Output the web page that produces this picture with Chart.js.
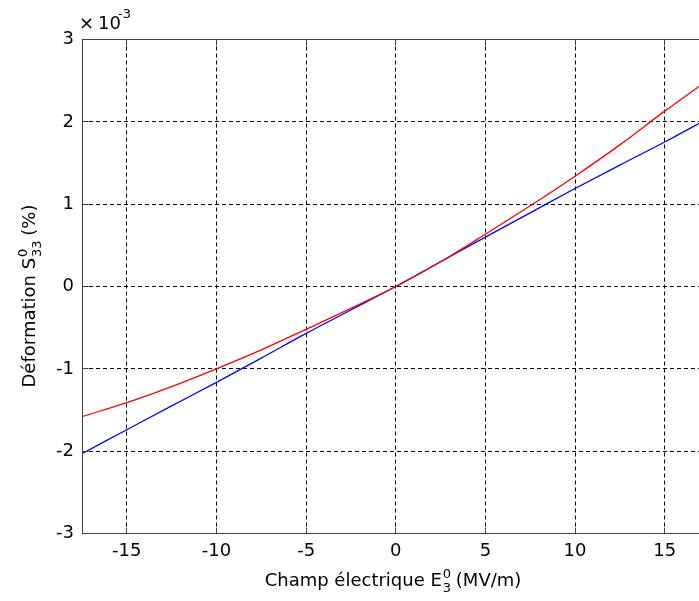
<!DOCTYPE html>
<html><head><meta charset="utf-8">
<script src="https://cdn.jsdelivr.net/npm/chart.js@4.4.1/dist/chart.umd.min.js"></script>
<style>
html,body{margin:0;padding:0;overflow:hidden;background:#fff;width:699px;height:601px}
#wrap{position:absolute;left:0;top:0;width:711px;height:601px}
</style>
</head><body><div id="wrap"><canvas id="c" width="711" height="601"></canvas></div>
<script>
// Electric field E3 (MV/m)
const xValues    = [-17.5, -15, -12.5, -10, -7.5, -5, -2.5, 0, 2.5, 5, 7.5, 10, 12.5, 15, 17.5];
// Strain S33 (% , x 10^-3) – blue (linear-like) series
const blueSeries = [-2.03, -1.74, -1.45, -1.165, -0.87, -0.57, -0.285, 0, 0.30, 0.60, 0.895, 1.19, 1.475, 1.755, 2.05];
// Strain S33 (% , x 10^-3) – red (nonlinear) series
const redSeries  = [-1.58, -1.41, -1.215, -1.0, -0.77, -0.52, -0.265, 0, 0.30, 0.635, 0.98, 1.34, 1.72, 2.13, 2.52];

const xTickValues = [-15, -10, -5, 0, 5, 10, 15];
const xTickLabels = ['-15', '-10', '-5', '0', '5', '10', '15'];
const yTickValues = [-3, -2, -1, 0, 1, 2, 3];
const yTickLabels = ['-3', '-2', '-1', '0', '1', '2', '3'];

const FONT = '"DejaVu Sans", sans-serif';
const FRAME = '#404040';

function pts(ys){ return xValues.map((x,i)=>({x:x, y:ys[i]})); }

const decor = {
  id:'decor',
  afterDatasetsDraw(chart){
    const ctx = chart.ctx, ca = chart.chartArea;
    const xs = chart.scales.x, ys = chart.scales.y;
    ctx.save();
    ctx.strokeStyle = FRAME; ctx.lineWidth = 1; ctx.setLineDash([]);
    const L = Math.round(ca.left)+0.5, T = Math.floor(ca.top)+0.5;
    const R = Math.round(ca.right)-0.5, B = Math.floor(ca.bottom)+0.5;
    ctx.beginPath();
    ctx.moveTo(L,T); ctx.lineTo(R,T); ctx.lineTo(R,B); ctx.lineTo(L,B); ctx.closePath();
    // inward ticks
    xTickValues.forEach(v=>{
      const p = Math.round(xs.getPixelForValue(v)-0.5)+0.5;
      ctx.moveTo(p,B); ctx.lineTo(p,B-6);
      ctx.moveTo(p,T); ctx.lineTo(p,T+6);
    });
    yTickValues.forEach(v=>{
      const p = Math.round(ys.getPixelForValue(v)-0.5)+0.5;
      ctx.moveTo(L,p); ctx.lineTo(L+6,p);
      ctx.moveTo(R,p); ctx.lineTo(R-6,p);
    });
    ctx.stroke();
    ctx.restore();
  },
  afterDraw(chart){
    const ctx = chart.ctx;
    ctx.save();
    ctx.fillStyle = '#000';
    ctx.textBaseline = 'alphabetic';
    ctx.textAlign = 'left';
    const big = '18px '+FONT, small = '13px '+FONT;
    // X title
    const a = 'Champ électrique E', b = ' (MV/m)';
    ctx.font = big; const wa = ctx.measureText(a).width, wb = ctx.measureText(b).width;
    ctx.font = small; const ws = Math.max(ctx.measureText('0').width, ctx.measureText('3').width);
    const tot = wa + ws + wb;
    let x0 = 393 - tot/2, yb = 586;
    ctx.font = big; ctx.fillText(a, x0, yb);
    ctx.font = small; ctx.fillText('0', x0+wa+1, yb-8); ctx.fillText('3', x0+wa+1, yb+6);
    ctx.font = big; ctx.fillText(b, x0+wa+ws, yb);
    // Y title (rotated)
    ctx.save();
    ctx.translate(35, 296); ctx.rotate(-Math.PI/2);
    const c = 'Déformation S', d = ' (%)';
    ctx.font = big; const wc = ctx.measureText(c).width, wd = ctx.measureText(d).width;
    ctx.font = small; const ws2 = ctx.measureText('33').width;
    const tot2 = wc + ws2 + wd;
    let s0 = -tot2/2;
    ctx.font = big; ctx.fillText(c, s0, 0);
    ctx.font = small; ctx.fillText('0', s0+wc+1, -8); ctx.fillText('33', s0+wc+1, 6);
    ctx.font = big; ctx.fillText(d, s0+wc+ws2, 0);
    ctx.restore();
    // multiplier
    ctx.font = big; ctx.fillText('×', 79, 29);
    ctx.fillText('10', 98, 29);
    ctx.font = small; ctx.fillText('-3', 118, 18);
    ctx.restore();
  }
};

new Chart(document.getElementById('c'), {
  type:'line',
  data:{ datasets:[
    { data: pts(redSeries),  borderColor:'#ff0000', borderWidth:1.3, pointRadius:0, cubicInterpolationMode:'monotone', fill:false },
    { data: pts(blueSeries), borderColor:'#0000ff', borderWidth:1.3, pointRadius:0, cubicInterpolationMode:'monotone', fill:false }
  ]},
  options:{
    responsive:false, animation:false, devicePixelRatio:1,
    layout:{ padding:{ left:0, top:39.5, right:1.5, bottom:0 } },
    plugins:{ legend:{display:false}, tooltip:{enabled:false} },
    scales:{
      x:{ type:'linear', min:-17.5, max:17.5,
        afterBuildTicks:s=>{ s.ticks = xTickValues.map(v=>({value:v})); },
        afterFit:s=>{ s.height = 67.5; },
        grid:{ color:'#000', lineWidth:1, drawTicks:false },
        border:{ display:false, dash:[4,3] },
        ticks:{ padding:7, color:'#000', font:{family:FONT, size:18}, maxRotation:0, autoSkip:false,
          callback:(v)=>{ const i = xTickValues.indexOf(v); return i>=0 ? xTickLabels[i] : ''; } }
      },
      y:{ type:'linear', min:-3, max:3,
        afterBuildTicks:s=>{ s.ticks = yTickValues.map(v=>({value:v})); },
        afterFit:s=>{ s.width = 82; },
        grid:{ color:'#000', lineWidth:1, drawTicks:false },
        border:{ display:false, dash:[4,3] },
        ticks:{ padding:8, color:'#000', font:{family:FONT, size:18}, autoSkip:false,
          callback:(v)=>{ const i = yTickValues.indexOf(v); return i>=0 ? yTickLabels[i] : ''; } }
      }
    }
  },
  plugins:[decor]
});
</script>
</body></html>
